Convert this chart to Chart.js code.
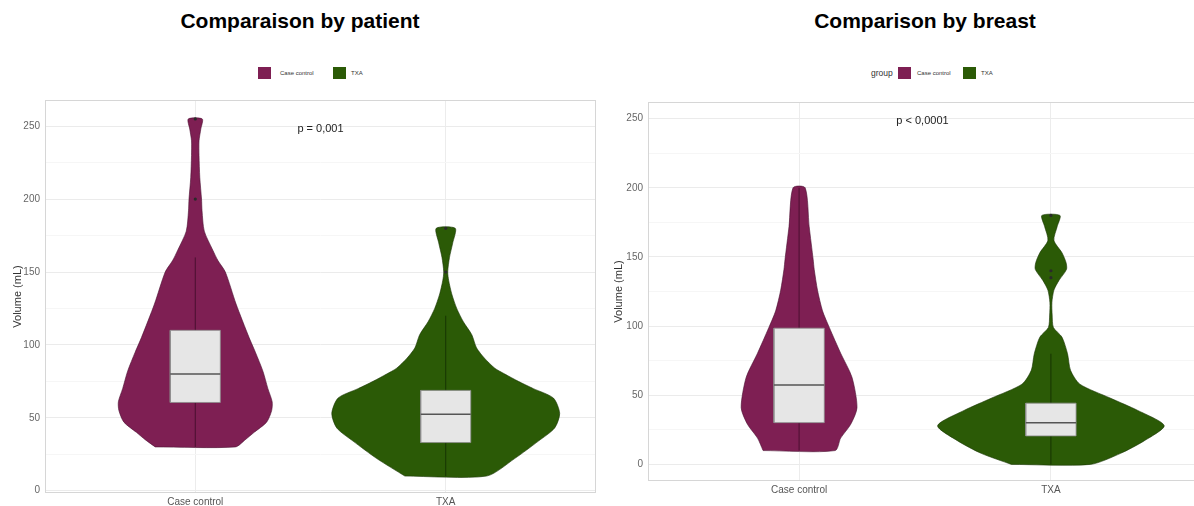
<!DOCTYPE html>
<html>
<head>
<meta charset="utf-8">
<script src="https://cdn.jsdelivr.net/npm/chart.js@4.4.1/dist/chart.umd.min.js"></script>
<style>
    body {
        margin: 0;
        width: 1194px;
        height: 506px;
        overflow: hidden;
        background: #fff;
        position: relative;
        font-family: "Liberation Sans", Arial, sans-serif;
    }
    .title {
        position: absolute;
        top: 9px;
        font-size: 21px;
        font-weight: bold;
        color: #000;
        transform: translateX(-50%);
        white-space: nowrap;
    }
    .key {
        position: absolute;
        top: 67px;
        width: 13px;
        height: 12px;
    }
    .lab {
        position: absolute;
        top: 70px;
        font-size: 6px;
        color: #333;
        white-space: nowrap;
    }
    .wrap {
        position: absolute;
    }
</style>
</head>
<body>

<div class="title" style="left:300px">Comparaison by patient</div>
<div class="title" style="left:925px">Comparison by breast</div>

<!-- legends -->
<div class="key" style="left:258px; background:#7e1f53"></div>
<div class="lab" style="left:280px">Case control</div>
<div class="key" style="left:333px; background:#2b5a06"></div>
<div class="lab" style="left:351px">TXA</div>

<div class="lab" style="left:871px; top:68px; font-size:8.5px">group</div>
<div class="key" style="left:898px; background:#7e1f53"></div>
<div class="lab" style="left:917px">Case control</div>
<div class="key" style="left:963px; background:#2b5a06"></div>
<div class="lab" style="left:981px">TXA</div>

<div class="wrap" style="left:0; top:89px; width:600px; height:419px"><canvas id="patientChart"></canvas></div>
<div class="wrap" style="left:600px; top:91px; width:610px; height:416px"><canvas id="breastChart"></canvas></div>

<script>
// ===== DATA =====
const categories = ['Case control', 'TXA'];
const yTicks = [0, 25, 50, 75, 100, 125, 150, 175, 200, 225, 250];
const pValues = ['p = 0,001', 'p < 0,0001'];

// violin outlines: y value and half width (in category units)
const patientCaseY = [30, 35, 40, 47, 55, 61, 70, 82, 95, 105, 128, 150, 158, 165, 178, 192, 200, 215, 230, 240, 248, 255];
const patientCaseW = [0.16, 0.20, 0.235, 0.285, 0.305, 0.307, 0.29, 0.27, 0.24, 0.215, 0.163, 0.12, 0.09, 0.07, 0.036, 0.027, 0.025, 0.018, 0.015, 0.015, 0.022, 0.028];

const patientTxaY = [10, 22, 34, 43, 53, 63.5, 70, 75, 80, 84, 91, 98, 107, 116, 125, 135, 144, 150, 160, 170, 180];
const patientTxaW = [0.163, 0.275, 0.37, 0.435, 0.455, 0.43, 0.35, 0.29, 0.236, 0.196, 0.154, 0.123, 0.104, 0.07, 0.044, 0.024, 0.012, 0.008, 0.015, 0.028, 0.038];

const breastCaseY = [10, 19, 29, 41, 63, 80, 99, 111, 126, 141, 148, 172, 200];
const breastCaseW = [0.143, 0.165, 0.205, 0.23, 0.21, 0.166, 0.12, 0.093, 0.073, 0.06, 0.056, 0.04, 0.024];

const breastTxaY = [0, 8, 17, 28, 39, 48, 58, 68, 80, 92, 99, 108, 117, 126, 133, 141, 146, 153, 162, 172, 180];
const breastTxaW = [0.157, 0.277, 0.37, 0.45, 0.345, 0.235, 0.115, 0.078, 0.066, 0.044, 0.01, 0.005, 0.004, 0.012, 0.032, 0.062, 0.06, 0.044, 0.012, 0.025, 0.036];

// box stats: whisker low, Q1, median, Q3, whisker high
const patientCaseBox = [30, 60.5, 80, 110, 160];
const patientTxaBox = [10, 33, 52.5, 68.8, 120];
const breastCaseBox = [10, 30.2, 57.4, 98.5, 200];
const breastTxaBox = [0, 20.6, 30.2, 44.3, 80];

const patientCaseOut = [200, 255];
const patientTxaOut = [150, 180];
const breastCaseOut = [];
const breastTxaOut = [135, 140, 180];

const caseFill = '#7e1f53';
const caseDark = '#4a0f30';
const txaFill = '#2b5a06';
const txaDark = '#173403';

// ===== HELPERS =====
function violinPoints(center, ys, ws) {
    const pts = [];
    for (let i = 0; i < ys.length; i++) pts.push({ x: center - ws[i], y: ys[i] });
    for (let i = ys.length - 1; i >= 0; i--) pts.push({ x: center + ws[i], y: ys[i] });
    pts.push({ x: center - ws[0], y: ys[0] });
    return pts;
}

function groupDatasets(center, ys, ws, box, outliers, fill, dark) {
    const half = 0.1;
    return [
        {
            data: violinPoints(center, ys, ws),
            showLine: true, fill: 'shape', tension: 0.25,
            backgroundColor: fill, borderColor: dark, borderWidth: 0.6,
            pointRadius: 0, order: 4
        },
        {
            data: [{ x: center, y: box[0] }, { x: center, y: box[4] }],
            showLine: true, borderColor: dark, borderWidth: 1,
            pointRadius: 0, order: 3
        },
        {
            data: [
                { x: center - half, y: box[1] }, { x: center + half, y: box[1] },
                { x: center + half, y: box[3] }, { x: center - half, y: box[3] },
                { x: center - half, y: box[1] }
            ],
            showLine: true, fill: 'shape',
            backgroundColor: '#e6e6e6', borderColor: '#8c8c8c', borderWidth: 0.8,
            pointRadius: 0, order: 2
        },
        {
            data: [{ x: center - half, y: box[2] }, { x: center + half, y: box[2] }],
            showLine: true, borderColor: '#555555', borderWidth: 1.5,
            pointRadius: 0, order: 1
        },
        {
            data: outliers.map(v => ({ x: center, y: v })),
            showLine: false, pointRadius: 1.6,
            backgroundColor: '#2a2a2a', borderWidth: 0, order: 0
        }
    ];
}

// panel border + p value text
const panelDecor = {
    id: 'panelDecor',
    afterDraw(chart) {
        const ctx = chart.ctx;
        const a = chart.chartArea;
        const o = chart.options.plugins.panelDecor;
        ctx.save();
        ctx.strokeStyle = '#d6d6d6';
        ctx.lineWidth = 1;
        ctx.strokeRect(a.left + 0.5, a.top + 0.5, a.right - a.left - 1, a.bottom - a.top - 1);
        ctx.font = '11px "Liberation Sans", Arial, sans-serif';
        ctx.fillStyle = '#222';
        ctx.textAlign = 'center';
        ctx.textBaseline = 'middle';
        ctx.fillText(o.text, chart.scales.x.getPixelForValue(o.x), chart.scales.y.getPixelForValue(o.y));
        ctx.restore();
    }
};

function makeChart(id, datasets, cfg) {
    return new Chart(document.getElementById(id), {
        type: 'scatter',
        data: { datasets: datasets },
        plugins: [panelDecor],
        options: {
            responsive: true,
            maintainAspectRatio: false,
            animation: false,
            events: [],
            layout: { padding: cfg.padding },
            plugins: {
                legend: { display: false },
                tooltip: { enabled: false },
                panelDecor: { text: cfg.pText, x: cfg.pX, y: 248 }
            },
            scales: {
                x: {
                    type: 'linear', min: 0.4, max: 2.6,
                    afterBuildTicks: s => { s.ticks = [{ value: 1 }, { value: 2 }]; },
                    afterFit: s => { s.height = 15; },
                    ticks: {
                        padding: 3,
                        color: '#555',
                        font: { size: 10, family: '"Liberation Sans", Arial, sans-serif' },
                        callback: v => categories[v - 1]
                    },
                    grid: { color: '#ececec', drawTicks: false },
                    border: { display: false }
                },
                y: {
                    type: 'linear', min: cfg.yMin, max: cfg.yMax,
                    afterBuildTicks: s => { s.ticks = yTicks.map(v => ({ value: v })); },
                    afterFit: s => { s.width = cfg.yWidth; },
                    ticks: {
                        padding: 5,
                        color: '#666',
                        font: { size: 10, family: '"Liberation Sans", Arial, sans-serif' },
                        callback: v => (v % 50 === 0 ? v : '')
                    },
                    grid: {
                        drawTicks: false,
                        color: c => (c.tick && c.tick.value % 50 === 0 ? '#ebebeb' : '#f6f6f6')
                    },
                    border: { display: false },
                    title: {
                        display: true,
                        text: 'Volume (mL)',
                        color: '#333',
                        padding: { top: cfg.titlePad, bottom: 0 },
                        font: { size: 11, family: '"Liberation Sans", Arial, sans-serif' }
                    }
                }
            }
        }
    });
}

// ===== BUILD =====
document.addEventListener('DOMContentLoaded', function() {
    makeChart('patientChart',
        groupDatasets(1, patientCaseY, patientCaseW, patientCaseBox, patientCaseOut, caseFill, caseDark)
            .concat(groupDatasets(2, patientTxaY, patientTxaW, patientTxaBox, patientTxaOut, txaFill, txaDark)),
        { padding: { top: 5, right: 3, left: 0, bottom: 0 }, yMin: -1.6, yMax: 268, yWidth: 45, titlePad: 11, pText: pValues[0], pX: 1.5 });

    makeChart('breastChart',
        groupDatasets(1, breastCaseY, breastCaseW, breastCaseBox, breastCaseOut, caseFill, caseDark)
            .concat(groupDatasets(2, breastTxaY, breastTxaW, breastTxaBox, breastTxaOut, txaFill, txaDark)),
        { padding: { top: 7, right: 8, left: 0, bottom: 11 }, yMin: -12, yMax: 262, yWidth: 48, titlePad: 12, pText: pValues[1], pX: 1.49 });
});
</script>
</body>
</html>
